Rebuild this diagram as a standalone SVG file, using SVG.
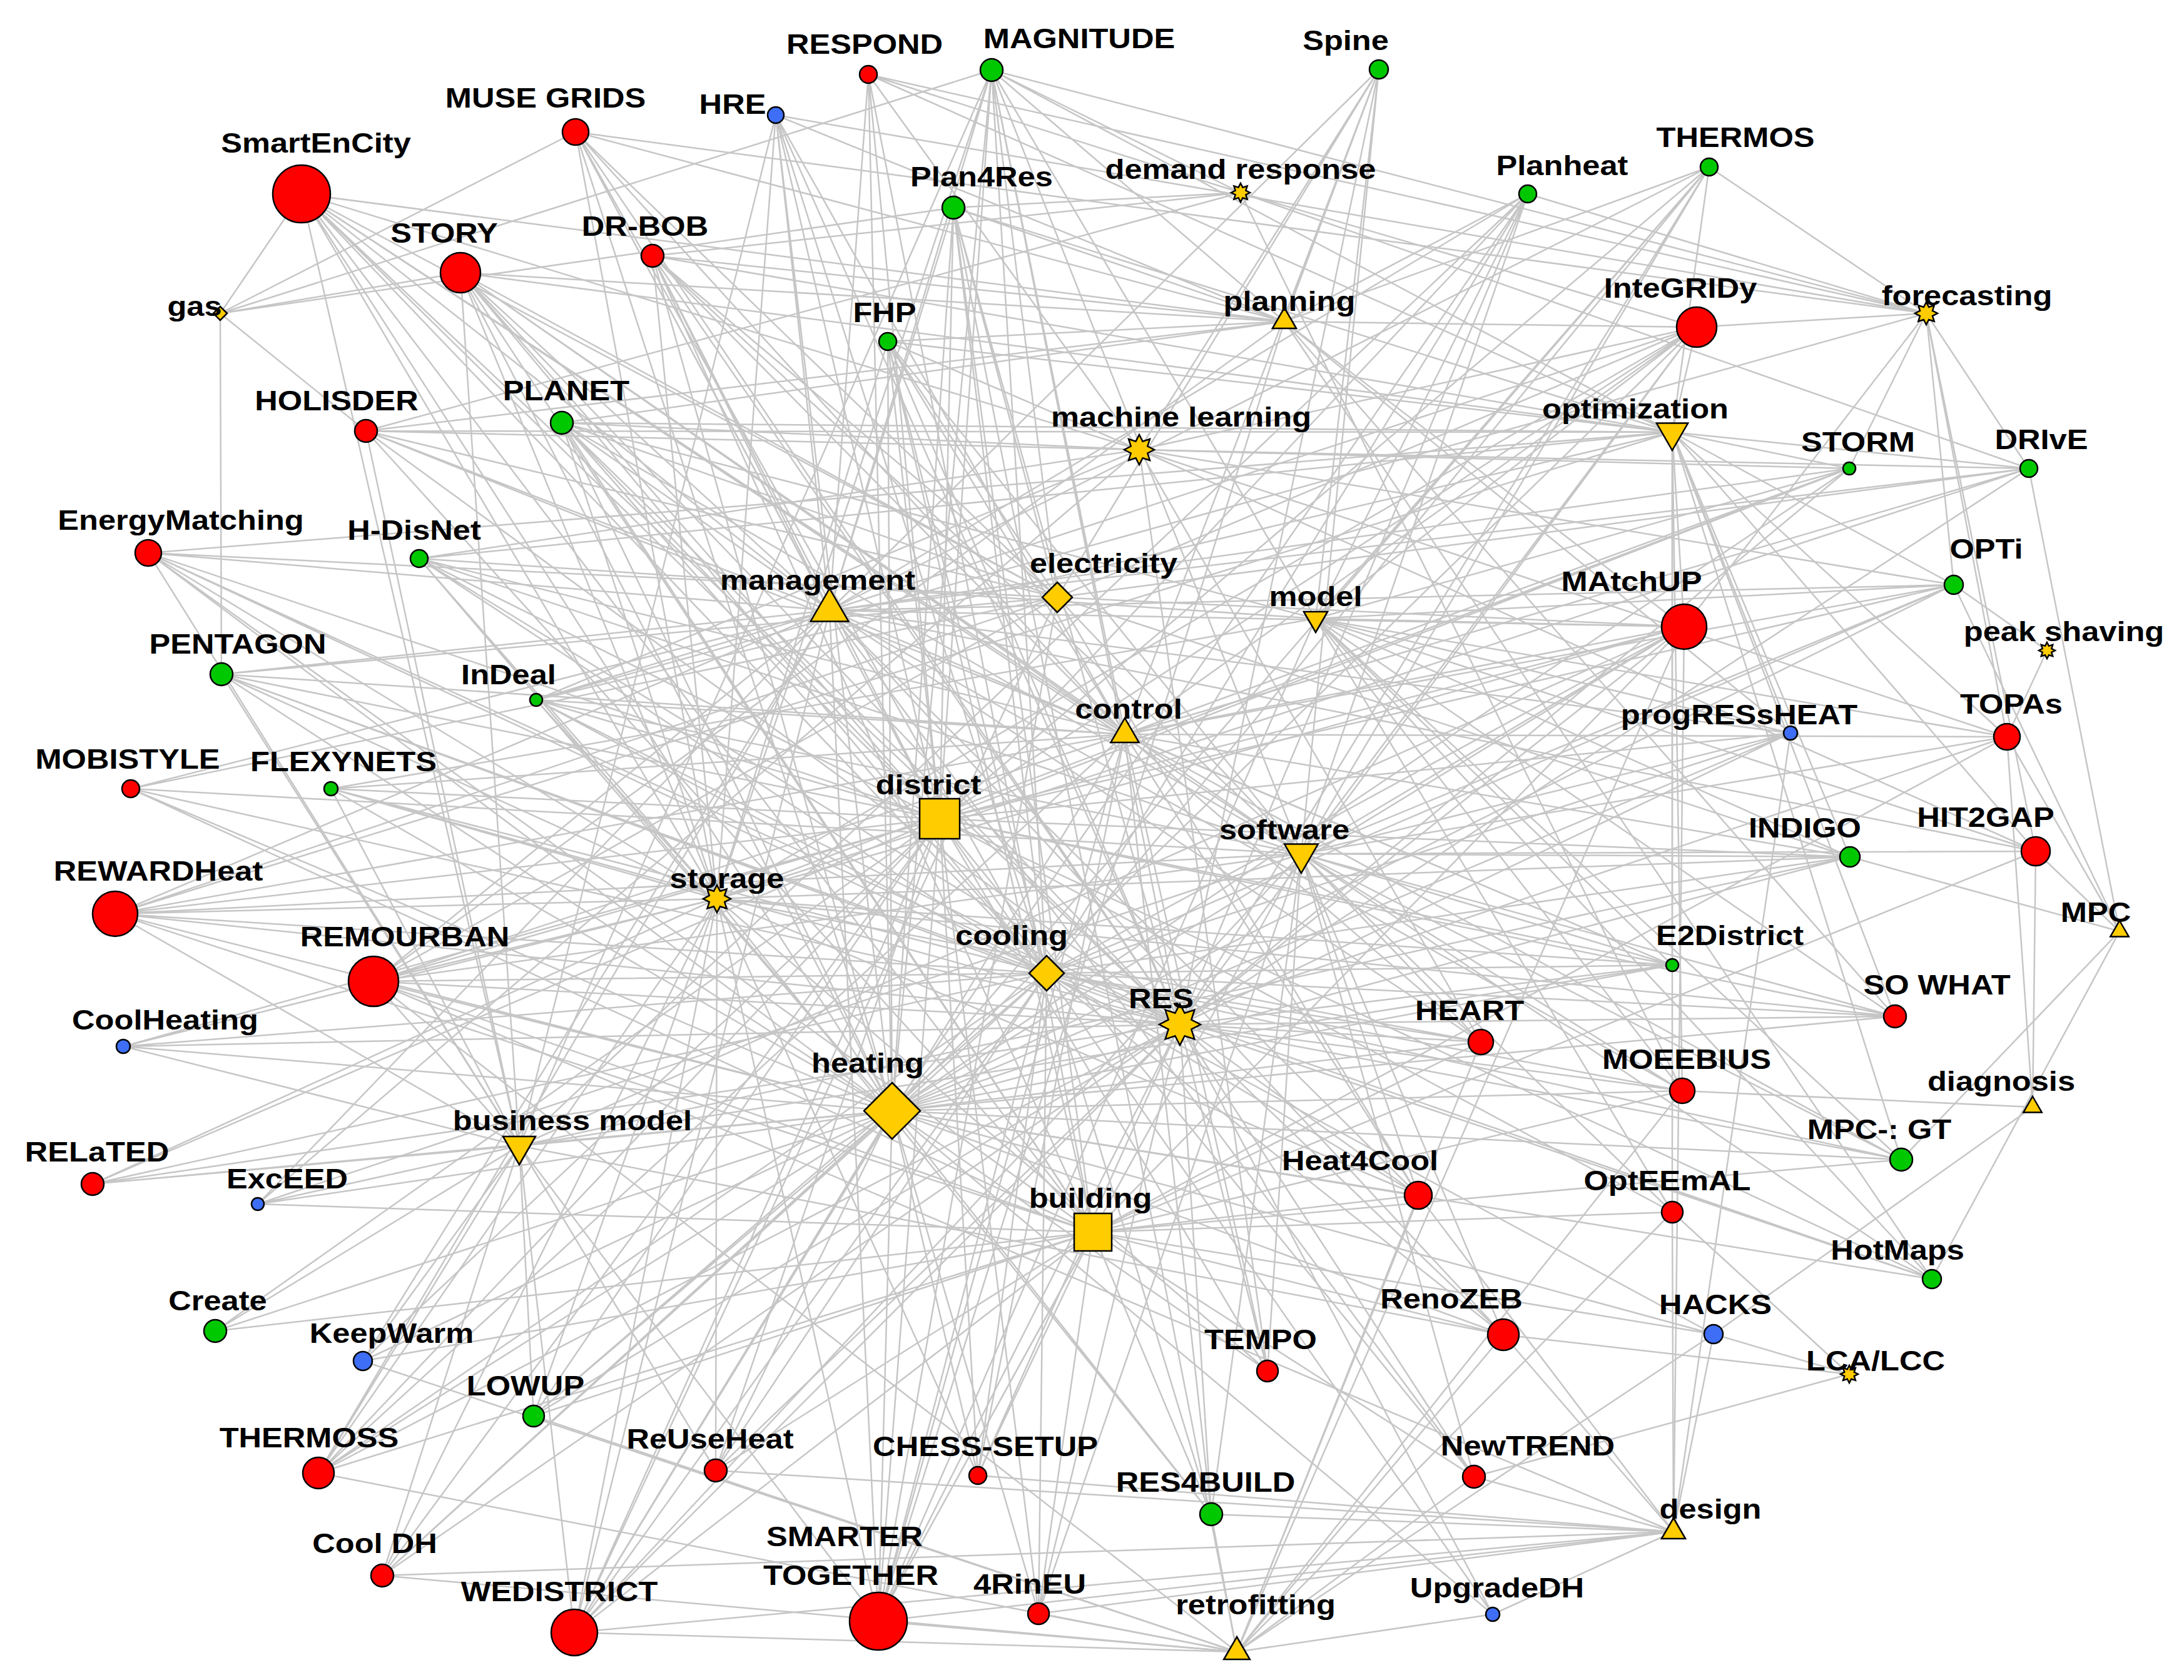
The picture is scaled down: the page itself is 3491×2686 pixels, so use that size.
<svg xmlns="http://www.w3.org/2000/svg" xmlns:xlink="http://www.w3.org/1999/xlink" width="3491" height="2686" viewBox="0 0 3491 2686">
<style>
.e{fill:none;stroke:#c6c6c6;stroke-width:2.5}
.r{fill:#ff0000;stroke:#000;stroke-width:2.5}
.g{fill:#00c800;stroke:#000;stroke-width:2.5}
.b{fill:#3d6ef5;stroke:#000;stroke-width:2.5}
.y{fill:#ffcc00;stroke:#000;stroke-width:2.5}
.l{font-family:"Liberation Sans",Arial,sans-serif;font-weight:bold;font-size:44px;text-anchor:middle;fill:#000}
</style>
<defs>
<polygon id="star" vector-effect="non-scaling-stroke" points="0,-1 0.2296,-0.5543 0.7071,-0.7071 0.5543,-0.2296 1,0 0.5543,0.2296 0.7071,0.7071 0.2296,0.5543 0,1 -0.2296,0.5543 -0.7071,0.7071 -0.5543,0.2296 -1,0 -0.5543,-0.2296 -0.7071,-0.7071 -0.2296,-0.5543"/>
</defs>
<rect width="3491" height="2686" fill="#fff"/>
<g id="connectors" class="e">
<path d="M482 310L352 501M482 310L2053 514M482 310L1326 976M482 310L1690 955M482 310L1502 1309M482 310L1426 1776M482 310L1146 1437M482 310L830 1832M482 310L1798 1174M482 310L1673 1556M482 310L1886 1638M482 310L1747 1970M482 310L2080 1365M482 310L1821 719"/>
<path d="M920 211L352 501M920 211L2053 514M920 211L3079 501M920 211L1326 976M920 211L1690 955M920 211L1502 1309M920 211L1426 1776M920 211L1673 1556M920 211L1886 1638M920 211L1146 1437M920 211L1798 1174"/>
<path d="M1388 119L1983 308M1388 119L3079 501M1388 119L2673 691M1388 119L1326 976M1388 119L1502 1309M1388 119L1426 1776M1388 119L1821 719M1388 119L1747 1970"/>
<path d="M1585 112L352 501M1585 112L2053 514M1585 112L1983 308M1585 112L2673 691M1585 112L3079 501M1585 112L1146 1437M1585 112L1326 976M1585 112L1690 955M1585 112L1502 1309M1585 112L1426 1776M1585 112L1673 1556M1585 112L1886 1638M1585 112L1798 1174M1585 112L2103 989M1585 112L830 1832M1585 112L2080 1365"/>
<path d="M1240 184L2053 514M1240 184L1326 976M1240 184L1502 1309M1240 184L1426 1776M1240 184L1146 1437M1240 184L830 1832M1240 184L1886 1638M1240 184L1673 1556M1240 184L3079 501M1240 184L1798 1174"/>
<path d="M2204 111L2053 514M2204 111L1821 719M2204 111L1690 955M2204 111L2103 989M2204 111L1798 1174M2204 111L2080 1365M2204 111L1886 1638M2204 111L1326 976"/>
<path d="M1524 332L352 501M1524 332L1983 308M1524 332L2053 514M1524 332L2673 691M1524 332L1326 976M1524 332L1690 955M1524 332L1502 1309M1524 332L1426 1776M1524 332L1673 1556M1524 332L1886 1638M1524 332L1747 1970M1524 332L1977 2641"/>
<path d="M2442 310L3079 501M2442 310L2053 514M2442 310L2103 989M2442 310L2080 1365M2442 310L1502 1309M2442 310L1426 1776M2442 310L1673 1556M2442 310L1326 976M2442 310L830 1832M2442 310L1886 1638"/>
<path d="M2732 267L2053 514M2732 267L2673 691M2732 267L2103 989M2732 267L2080 1365M2732 267L1502 1309M2732 267L1426 1776M2732 267L1673 1556M2732 267L1326 976M2732 267L1886 1638M2732 267L3079 501"/>
<path d="M736 436L352 501M736 436L2053 514M736 436L1326 976M736 436L1690 955M736 436L1502 1309M736 436L1426 1776M736 436L1146 1437M736 436L1673 1556M736 436L1886 1638M736 436L1747 1970M736 436L1798 1174M736 436L2080 1365M736 436L2673 691M736 436L830 1832"/>
<path d="M1043 409L1983 308M1043 409L2053 514M1043 409L1690 955M1043 409L1326 976M1043 409L1502 1309M1043 409L1426 1776M1043 409L1146 1437M1043 409L1886 1638M1043 409L1798 1174M1043 409L1747 1970M1043 409L2080 1365M1043 409L2673 691"/>
<path d="M2712 523L3079 501M2712 523L2673 691M2712 523L2053 514M2712 523L1983 308M2712 523L1821 719M2712 523L2103 989M2712 523L1326 976M2712 523L1690 955M2712 523L1502 1309M2712 523L1426 1776M2712 523L1146 1437M2712 523L1798 1174M2712 523L1886 1638M2712 523L2080 1365"/>
<path d="M1419 546L2053 514M1419 546L1821 719M1419 546L2673 691M1419 546L1690 955M1419 546L1502 1309M1419 546L1426 1776M1419 546L1146 1437M1419 546L1886 1638M1419 546L1798 1174M1419 546L1747 1970M1419 546L2080 1365M1419 546L1673 1556"/>
<path d="M585 689L352 501M585 689L2053 514M585 689L1821 719M585 689L1326 976M585 689L1690 955M585 689L1983 308M585 689L1798 1174M585 689L2673 691M585 689L1747 1970M585 689L1886 1638M585 689L830 1832"/>
<path d="M898 676L1821 719M898 676L2673 691M898 676L2053 514M898 676L1326 976M898 676L1690 955M898 676L1502 1309M898 676L1426 1776M898 676L1146 1437M898 676L1886 1638M898 676L1673 1556M898 676L2080 1365M898 676L2103 989M898 676L1747 1970"/>
<path d="M2956 749L3079 501M2956 749L2673 691M2956 749L1821 719M2956 749L2103 989M2956 749L1798 1174M2956 749L1326 976M2956 749L1502 1309M2956 749L1426 1776M2956 749L1146 1437M2956 749L1886 1638"/>
<path d="M3243 749L3079 501M3243 749L2673 691M3243 749L1983 308M3243 749L1821 719M3243 749L1798 1174M3243 749L1326 976M3243 749L1690 955M3243 749L1146 1437M3243 749L1886 1638M3243 749L3388 1489"/>
<path d="M237 884L1326 976M237 884L1690 955M237 884L1502 1309M237 884L1426 1776M237 884L1146 1437M237 884L1886 1638M237 884L830 1832M237 884L1673 1556M237 884L1747 1970M237 884L2673 691"/>
<path d="M670 893L1798 1174M670 893L1502 1309M670 893L1426 1776M670 893L1146 1437M670 893L1886 1638M670 893L2103 989M670 893L2673 691M670 893L1821 719M670 893L1673 1556M670 893L2080 1365"/>
<path d="M2692 1002L2673 691M2692 1002L3079 501M2692 1002L2053 514M2692 1002L1326 976M2692 1002L1690 955M2692 1002L2103 989M2692 1002L1502 1309M2692 1002L1426 1776M2692 1002L1673 1556M2692 1002L1146 1437M2692 1002L1886 1638M2692 1002L1747 1970M2692 1002L1977 2641M2692 1002L2080 1365M2692 1002L1798 1174M2692 1002L2675 2449M2692 1002L830 1832"/>
<path d="M3123 935L3079 501M3123 935L2673 691M3123 935L1821 719M3123 935L1798 1174M3123 935L1326 976M3123 935L1502 1309M3123 935L1426 1776M3123 935L1673 1556M3123 935L3272 1040M3123 935L2103 989M3123 935L3388 1489M3123 935L2080 1365"/>
<path d="M354 1078L352 501M354 1078L1326 976M354 1078L1690 955M354 1078L1502 1309M354 1078L1426 1776M354 1078L1146 1437M354 1078L1886 1638M354 1078L1798 1174M354 1078L830 1832M354 1078L1673 1556"/>
<path d="M857 1119L1821 719M857 1119L1326 976M857 1119L1798 1174M857 1119L1502 1309M857 1119L1426 1776M857 1119L1146 1437M857 1119L1886 1638M857 1119L1673 1556M857 1119L2080 1365M857 1119L3079 501M857 1119L2673 691"/>
<path d="M2862 1172L2053 514M2862 1172L2103 989M2862 1172L2080 1365M2862 1172L1502 1309M2862 1172L1426 1776M2862 1172L1673 1556M2862 1172L1886 1638M2862 1172L1326 976M2862 1172L2673 691M2862 1172L2675 2449"/>
<path d="M3208 1178L3079 501M3208 1178L3272 1040M3208 1178L3388 1489M3208 1178L3249 1770M3208 1178L2673 691M3208 1178L1798 1174M3208 1178L2080 1365M3208 1178L2103 989M3208 1178L1821 719M3208 1178L1747 1970M3208 1178L1426 1776"/>
<path d="M209 1261L1326 976M209 1261L1886 1638M209 1261L1747 1970M209 1261L1690 955M209 1261L2080 1365M209 1261L1426 1776"/>
<path d="M529 1261L1502 1309M529 1261L1426 1776M529 1261L1673 1556M529 1261L1146 1437M529 1261L1886 1638M529 1261L1798 1174M529 1261L830 1832M529 1261L2103 989"/>
<path d="M2957 1370L3388 1489M2957 1370L2673 691M2957 1370L1798 1174M2957 1370L2080 1365M2957 1370L2103 989M2957 1370L1502 1309M2957 1370L1673 1556M2957 1370L1426 1776M2957 1370L1146 1437M2957 1370L830 1832M2957 1370L1690 955"/>
<path d="M3254 1361L3249 1770M3254 1361L3388 1489M3254 1361L3079 501M3254 1361L2673 691M3254 1361L1821 719M3254 1361L2080 1365M3254 1361L1326 976M3254 1361L1747 1970M3254 1361L2103 989"/>
<path d="M184 1461L1502 1309M184 1461L1426 1776M184 1461L1673 1556M184 1461L1146 1437M184 1461L1886 1638M184 1461L1798 1174M184 1461L830 1832M184 1461L1326 976M184 1461L2080 1365M184 1461L1690 955M184 1461L1747 1970M184 1461L2673 691"/>
<path d="M597 1569L1326 976M597 1569L1690 955M597 1569L1502 1309M597 1569L1426 1776M597 1569L1146 1437M597 1569L1886 1638M597 1569L1673 1556M597 1569L830 1832M597 1569L1747 1970M597 1569L1977 2641M597 1569L2080 1365M597 1569L1798 1174M597 1569L2053 514M597 1569L2675 2449"/>
<path d="M2673 1543L2673 691M2673 1543L1798 1174M2673 1543L2080 1365M2673 1543L2103 989M2673 1543L1502 1309M2673 1543L1426 1776M2673 1543L1673 1556M2673 1543L1146 1437M2673 1543L1886 1638M2673 1543L830 1832M2673 1543L1326 976"/>
<path d="M3029 1625L2080 1365M3029 1625L2103 989M3029 1625L1502 1309M3029 1625L1426 1776M3029 1625L1673 1556M3029 1625L1886 1638M3029 1625L1146 1437M3029 1625L2053 514M3029 1625L830 1832M3029 1625L2673 691"/>
<path d="M197 1673L1502 1309M197 1673L1426 1776M197 1673L1673 1556M197 1673L1886 1638M197 1673L1146 1437M197 1673L830 1832"/>
<path d="M2367 1666L1886 1638M2367 1666L1426 1776M2367 1666L1673 1556M2367 1666L1747 1970M2367 1666L1977 2641M2367 1666L1798 1174M2367 1666L1326 976M2367 1666L1690 955M2367 1666L1146 1437M2367 1666L2080 1365M2367 1666L1821 719"/>
<path d="M2689 1744L3249 1770M2689 1744L2103 989M2689 1744L2080 1365M2689 1744L1747 1970M2689 1744L1426 1776M2689 1744L1673 1556M2689 1744L1977 2641M2689 1744L1983 308M2689 1744L1326 976M2689 1744L2673 691M2689 1744L1886 1638"/>
<path d="M3039 1854L1798 1174M3039 1854L2673 691M3039 1854L3388 1489M3039 1854L2080 1365M3039 1854L1426 1776M3039 1854L1673 1556M3039 1854L1747 1970M3039 1854L1886 1638M3039 1854L2103 989"/>
<path d="M148 1893L1502 1309M148 1893L1426 1776M148 1893L1886 1638M148 1893L830 1832M148 1893L1146 1437M148 1893L1673 1556"/>
<path d="M412 1925L1747 1970M412 1925L830 1832M412 1925L2080 1365M412 1925L1326 976M412 1925L1426 1776M412 1925L1821 719"/>
<path d="M2267 1911L1426 1776M2267 1911L1673 1556M2267 1911L1747 1970M2267 1911L1977 2641M2267 1911L1886 1638M2267 1911L1146 1437M2267 1911L1798 1174M2267 1911L2675 2449M2267 1911L2080 1365M2267 1911L1326 976M2267 1911L1690 955"/>
<path d="M2673 1938L2673 691M2673 1938L1747 1970M2673 1938L1977 2641M2673 1938L2675 2449M2673 1938L2080 1365M2673 1938L1502 1309M2673 1938L2103 989M2673 1938L2956 2197"/>
<path d="M3088 2045L2053 514M3088 2045L1502 1309M3088 2045L1426 1776M3088 2045L1673 1556M3088 2045L2080 1365M3088 2045L2103 989M3088 2045L1886 1638M3088 2045L3388 1489"/>
<path d="M344 2128L1747 1970M344 2128L1502 1309M344 2128L830 1832M344 2128L1426 1776"/>
<path d="M580 2176L1502 1309M580 2176L1426 1776M580 2176L830 1832M580 2176L1326 976M580 2176L1747 1970M580 2176L1977 2641"/>
<path d="M2403 2134L1747 1970M2403 2134L1977 2641M2403 2134L2675 2449M2403 2134L2956 2197M2403 2134L1426 1776M2403 2134L1673 1556M2403 2134L1886 1638M2403 2134L2080 1365M2403 2134L830 1832M2403 2134L1326 976"/>
<path d="M2739 2133L1747 1970M2739 2133L2675 2449M2739 2133L1426 1776M2739 2133L1673 1556M2739 2133L1977 2641M2739 2133L3249 1770M2739 2133L2956 2197"/>
<path d="M2026 2192L1502 1309M2026 2192L1426 1776M2026 2192L1886 1638M2026 2192L1146 1437M2026 2192L1798 1174M2026 2192L2080 1365M2026 2192L1821 719"/>
<path d="M853 2264L1747 1970M853 2264L1426 1776M853 2264L1673 1556M853 2264L1886 1638M853 2264L1146 1437M853 2264L1502 1309M853 2264L830 1832M853 2264L1977 2641"/>
<path d="M509 2355L1426 1776M509 2355L1673 1556M509 2355L1747 1970M509 2355L1502 1309M509 2355L1886 1638M509 2355L1146 1437M509 2355L1798 1174M509 2355L830 1832M509 2355L1326 976M509 2355L1977 2641"/>
<path d="M1144 2351L1502 1309M1144 2351L1426 1776M1144 2351L1673 1556M1144 2351L1886 1638M1144 2351L1146 1437M1144 2351L830 1832M1144 2351L1747 1970M1144 2351L2675 2449"/>
<path d="M1563 2359L1426 1776M1563 2359L1747 1970M1563 2359L1886 1638M1563 2359L1146 1437M1563 2359L1673 1556M1563 2359L1798 1174M1563 2359L1502 1309M1563 2359L2675 2449"/>
<path d="M2356 2361L1747 1970M2356 2361L1977 2641M2356 2361L2675 2449M2356 2361L2956 2197M2356 2361L1502 1309M2356 2361L1886 1638M2356 2361L1326 976M2356 2361L2080 1365"/>
<path d="M1936 2421L1886 1638M1936 2421L1747 1970M1936 2421L1426 1776M1936 2421L1673 1556M1936 2421L2675 2449M1936 2421L1977 2641M1936 2421L1798 1174M1936 2421L1146 1437M1936 2421L2080 1365"/>
<path d="M611 2519L1502 1309M611 2519L1426 1776M611 2519L1673 1556M611 2519L1146 1437M611 2519L1886 1638M611 2519L1977 2641M611 2519L2675 2449M611 2519L830 1832"/>
<path d="M918 2610L1502 1309M918 2610L1426 1776M918 2610L1673 1556M918 2610L1886 1638M918 2610L1146 1437M918 2610L830 1832M918 2610L1798 1174M918 2610L1326 976M918 2610L1690 955M918 2610L1747 1970M918 2610L2080 1365M918 2610L2675 2449M918 2610L1977 2641"/>
<path d="M1404 2592L1502 1309M1404 2592L1426 1776M1404 2592L1673 1556M1404 2592L1886 1638M1404 2592L1326 976M1404 2592L1690 955M1404 2592L1747 1970M1404 2592L1977 2641M1404 2592L830 1832M1404 2592L1146 1437M1404 2592L2053 514M1404 2592L2080 1365M1404 2592L1798 1174M1404 2592L2675 2449M1404 2592L2103 989"/>
<path d="M1660 2580L1747 1970M1660 2580L1977 2641M1660 2580L2675 2449M1660 2580L1886 1638M1660 2580L1426 1776M1660 2580L1673 1556M1660 2580L1502 1309M1660 2580L2080 1365"/>
<path d="M2386 2581L1502 1309M2386 2581L1426 1776M2386 2581L1977 2641M2386 2581L2675 2449M2386 2581L1886 1638"/>
</g>
<g id="n-heating"><polygon class="y" points="1426,1731 1471,1776 1426,1821 1381,1776"/><text class="l" transform="translate(1387 1715) scale(1.15 1)">heating</text></g>
<g id="n-district"><rect class="y" x="1470" y="1277" width="64" height="64"/><text class="l" transform="translate(1484 1270) scale(1.15 1)">district</text></g>
<g id="n-building"><rect class="y" x="1717" y="1940" width="60" height="60"/><text class="l" transform="translate(1743 1931) scale(1.15 1)">building</text></g>
<g id="n-RES"><use xlink:href="#star" class="y" transform="translate(1886 1638) scale(33)"/><text class="l" transform="translate(1856 1612) scale(1.15 1)">RES</text></g>
<g id="n-cooling"><polygon class="y" points="1673,1528 1701,1556 1673,1584 1645,1556"/><text class="l" transform="translate(1617 1511) scale(1.15 1)">cooling</text></g>
<g id="n-management"><polygon class="y" points="1326,941 1356.3,993.5 1295.7,993.5"/><text class="l" transform="translate(1307 943) scale(1.15 1)">management</text></g>
<g id="n-storage"><use xlink:href="#star" class="y" transform="translate(1146 1437) scale(22)"/><text class="l" transform="translate(1162 1420) scale(1.15 1)">storage</text></g>
<g id="n-business-model"><polygon class="y" points="830,1862 856,1817 804,1817"/><text class="l" transform="translate(915 1807) scale(1.15 1)">business model</text></g>
<g id="n-software"><polygon class="y" points="2080,1396 2106.8,1349.5 2053.2,1349.5"/><text class="l" transform="translate(2053 1342) scale(1.15 1)">software</text></g>
<g id="n-model"><polygon class="y" points="2103,1011 2122.1,978 2083.9,978"/><text class="l" transform="translate(2103 969) scale(1.15 1)">model</text></g>
<g id="n-control"><polygon class="y" points="1798,1148 1820.5,1187 1775.5,1187"/><text class="l" transform="translate(1804 1149) scale(1.15 1)">control</text></g>
<g id="n-electricity"><polygon class="y" points="1690,931 1714,955 1690,979 1666,955"/><text class="l" transform="translate(1764 916) scale(1.15 1)">electricity</text></g>
<g id="n-optimization"><polygon class="y" points="2673,720 2698.1,676.5 2647.9,676.5"/><text class="l" transform="translate(2614 669) scale(1.15 1)">optimization</text></g>
<g id="n-machine-learning"><use xlink:href="#star" class="y" transform="translate(1821 719) scale(24)"/><text class="l" transform="translate(1888 682) scale(1.15 1)">machine learning</text></g>
<g id="n-planning"><polygon class="y" points="2053,492 2072.1,525 2033.9,525"/><text class="l" transform="translate(2061 497) scale(1.15 1)">planning</text></g>
<g id="n-forecasting"><use xlink:href="#star" class="y" transform="translate(3079 501) scale(18)"/><text class="l" transform="translate(3144 488) scale(1.15 1)">forecasting</text></g>
<g id="n-demand-response"><use xlink:href="#star" class="y" transform="translate(1983 308) scale(15)"/><text class="l" transform="translate(1983 286) scale(1.15 1)">demand response</text></g>
<g id="n-retrofitting"><polygon class="y" points="1977,2617 1997.8,2653 1956.2,2653"/><text class="l" transform="translate(2007 2581) scale(1.15 1)">retrofitting</text></g>
<g id="n-design"><polygon class="y" points="2675,2427 2694.1,2460 2655.9,2460"/><text class="l" transform="translate(2734 2428) scale(1.15 1)">design</text></g>
<g id="n-LCA-LCC"><use xlink:href="#star" class="y" transform="translate(2956 2197) scale(14)"/><text class="l" transform="translate(2998 2191) scale(1.15 1)">LCA/LCC</text></g>
<g id="n-diagnosis"><polygon class="y" points="3249,1753 3263.7,1778.5 3234.3,1778.5"/><text class="l" transform="translate(3199 1744) scale(1.15 1)">diagnosis</text></g>
<g id="n-MPC"><polygon class="y" points="3388,1472 3402.7,1497.5 3373.3,1497.5"/><text class="l" transform="translate(3350 1474) scale(1.15 1)">MPC</text></g>
<g id="n-peak-shaving"><use xlink:href="#star" class="y" transform="translate(3272 1040) scale(13)"/><text class="l" transform="translate(3299 1025) scale(1.15 1)">peak shaving</text></g>
<g id="n-gas"><polygon class="y" points="352,490 363,501 352,512 341,501"/><text class="l" transform="translate(311 505) scale(1.15 1)">gas</text></g>
<g id="n-SmartEnCity"><circle class="r" cx="482" cy="310" r="46"/><text class="l" transform="translate(505 244) scale(1.15 1)">SmartEnCity</text></g>
<g id="n-MUSE-GRIDS"><circle class="r" cx="920" cy="211" r="21"/><text class="l" transform="translate(872 172) scale(1.15 1)">MUSE GRIDS</text></g>
<g id="n-RESPOND"><circle class="r" cx="1388" cy="119" r="14"/><text class="l" transform="translate(1382 86) scale(1.15 1)">RESPOND</text></g>
<g id="n-MAGNITUDE"><circle class="g" cx="1585" cy="112" r="18"/><text class="l" transform="translate(1725 77) scale(1.15 1)">MAGNITUDE</text></g>
<g id="n-HRE"><circle class="b" cx="1240" cy="184" r="13"/><text class="l" transform="translate(1171 182) scale(1.15 1)">HRE</text></g>
<g id="n-Spine"><circle class="g" cx="2204" cy="111" r="15"/><text class="l" transform="translate(2151 80) scale(1.15 1)">Spine</text></g>
<g id="n-Plan4Res"><circle class="g" cx="1524" cy="332" r="18"/><text class="l" transform="translate(1569 298) scale(1.15 1)">Plan4Res</text></g>
<g id="n-Planheat"><circle class="g" cx="2442" cy="310" r="14"/><text class="l" transform="translate(2497 280) scale(1.15 1)">Planheat</text></g>
<g id="n-THERMOS"><circle class="g" cx="2732" cy="267" r="14"/><text class="l" transform="translate(2774 235) scale(1.15 1)">THERMOS</text></g>
<g id="n-STORY"><circle class="r" cx="736" cy="436" r="32"/><text class="l" transform="translate(710 388) scale(1.15 1)">STORY</text></g>
<g id="n-DR-BOB"><circle class="r" cx="1043" cy="409" r="18"/><text class="l" transform="translate(1031 377) scale(1.15 1)">DR-BOB</text></g>
<g id="n-InteGRIDy"><circle class="r" cx="2712" cy="523" r="32"/><text class="l" transform="translate(2686 476) scale(1.15 1)">InteGRIDy</text></g>
<g id="n-FHP"><circle class="g" cx="1419" cy="546" r="14"/><text class="l" transform="translate(1414 515) scale(1.15 1)">FHP</text></g>
<g id="n-HOLISDER"><circle class="r" cx="585" cy="689" r="18"/><text class="l" transform="translate(538 656) scale(1.15 1)">HOLISDER</text></g>
<g id="n-PLANET"><circle class="g" cx="898" cy="676" r="18"/><text class="l" transform="translate(905 640) scale(1.15 1)">PLANET</text></g>
<g id="n-STORM"><circle class="g" cx="2956" cy="749" r="10"/><text class="l" transform="translate(2970 722) scale(1.15 1)">STORM</text></g>
<g id="n-DRIvE"><circle class="g" cx="3243" cy="749" r="14"/><text class="l" transform="translate(3263 718) scale(1.15 1)">DRIvE</text></g>
<g id="n-EnergyMatching"><circle class="r" cx="237" cy="884" r="21"/><text class="l" transform="translate(289 847) scale(1.15 1)">EnergyMatching</text></g>
<g id="n-H-DisNet"><circle class="g" cx="670" cy="893" r="14"/><text class="l" transform="translate(662 863) scale(1.15 1)">H-DisNet</text></g>
<g id="n-MAtchUP"><circle class="r" cx="2692" cy="1002" r="36"/><text class="l" transform="translate(2608 945) scale(1.15 1)">MAtchUP</text></g>
<g id="n-OPTi"><circle class="g" cx="3123" cy="935" r="15"/><text class="l" transform="translate(3175 893) scale(1.15 1)">OPTi</text></g>
<g id="n-PENTAGON"><circle class="g" cx="354" cy="1078" r="18"/><text class="l" transform="translate(380 1045) scale(1.15 1)">PENTAGON</text></g>
<g id="n-InDeal"><circle class="g" cx="857" cy="1119" r="10"/><text class="l" transform="translate(813 1094) scale(1.15 1)">InDeal</text></g>
<g id="n-progRESsHEAT"><circle class="b" cx="2862" cy="1172" r="11"/><text class="l" transform="translate(2780 1158) scale(1.15 1)">progRESsHEAT</text></g>
<g id="n-TOPAs"><circle class="r" cx="3208" cy="1178" r="21"/><text class="l" transform="translate(3215 1141) scale(1.15 1)">TOPAs</text></g>
<g id="n-MOBISTYLE"><circle class="r" cx="209" cy="1261" r="14"/><text class="l" transform="translate(204 1229) scale(1.15 1)">MOBISTYLE</text></g>
<g id="n-FLEXYNETS"><circle class="g" cx="529" cy="1261" r="11"/><text class="l" transform="translate(549 1233) scale(1.15 1)">FLEXYNETS</text></g>
<g id="n-INDIGO"><circle class="g" cx="2957" cy="1370" r="16"/><text class="l" transform="translate(2885 1339) scale(1.15 1)">INDIGO</text></g>
<g id="n-HIT2GAP"><circle class="r" cx="3254" cy="1361" r="23"/><text class="l" transform="translate(3174 1322) scale(1.15 1)">HIT2GAP</text></g>
<g id="n-REWARDHeat"><circle class="r" cx="184" cy="1461" r="36"/><text class="l" transform="translate(253 1408) scale(1.15 1)">REWARDHeat</text></g>
<g id="n-REMOURBAN"><circle class="r" cx="597" cy="1569" r="40"/><text class="l" transform="translate(647 1513) scale(1.15 1)">REMOURBAN</text></g>
<g id="n-E2District"><circle class="g" cx="2673" cy="1543" r="10"/><text class="l" transform="translate(2765 1511) scale(1.15 1)">E2District</text></g>
<g id="n-SO-WHAT"><circle class="r" cx="3029" cy="1625" r="18"/><text class="l" transform="translate(3096 1590) scale(1.15 1)">SO WHAT</text></g>
<g id="n-CoolHeating"><circle class="b" cx="197" cy="1673" r="11"/><text class="l" transform="translate(264 1646) scale(1.15 1)">CoolHeating</text></g>
<g id="n-HEART"><circle class="r" cx="2367" cy="1666" r="20"/><text class="l" transform="translate(2349 1631) scale(1.15 1)">HEART</text></g>
<g id="n-MOEEBIUS"><circle class="r" cx="2689" cy="1744" r="20"/><text class="l" transform="translate(2696 1709) scale(1.15 1)">MOEEBIUS</text></g>
<g id="n-MPC-GT"><circle class="g" cx="3039" cy="1854" r="18"/><text class="l" transform="translate(3004 1821) scale(1.15 1)">MPC-: GT</text></g>
<g id="n-RELaTED"><circle class="r" cx="148" cy="1893" r="18"/><text class="l" transform="translate(155 1857) scale(1.15 1)">RELaTED</text></g>
<g id="n-ExcEED"><circle class="b" cx="412" cy="1925" r="10"/><text class="l" transform="translate(459 1900) scale(1.15 1)">ExcEED</text></g>
<g id="n-Heat4Cool"><circle class="r" cx="2267" cy="1911" r="22"/><text class="l" transform="translate(2174 1871) scale(1.15 1)">Heat4Cool</text></g>
<g id="n-OptEEmAL"><circle class="r" cx="2673" cy="1938" r="17"/><text class="l" transform="translate(2665 1903) scale(1.15 1)">OptEEmAL</text></g>
<g id="n-HotMaps"><circle class="g" cx="3088" cy="2045" r="15"/><text class="l" transform="translate(3033 2014) scale(1.15 1)">HotMaps</text></g>
<g id="n-Create"><circle class="g" cx="344" cy="2128" r="18"/><text class="l" transform="translate(348 2095) scale(1.15 1)">Create</text></g>
<g id="n-KeepWarm"><circle class="b" cx="580" cy="2176" r="15"/><text class="l" transform="translate(626 2147) scale(1.15 1)">KeepWarm</text></g>
<g id="n-RenoZEB"><circle class="r" cx="2403" cy="2134" r="25"/><text class="l" transform="translate(2320 2092) scale(1.15 1)">RenoZEB</text></g>
<g id="n-HACKS"><circle class="b" cx="2739" cy="2133" r="15"/><text class="l" transform="translate(2742 2101) scale(1.15 1)">HACKS</text></g>
<g id="n-TEMPO"><circle class="r" cx="2026" cy="2192" r="17"/><text class="l" transform="translate(2015 2157) scale(1.15 1)">TEMPO</text></g>
<g id="n-LOWUP"><circle class="g" cx="853" cy="2264" r="17"/><text class="l" transform="translate(840 2231) scale(1.15 1)">LOWUP</text></g>
<g id="n-THERMOSS"><circle class="r" cx="509" cy="2355" r="25"/><text class="l" transform="translate(494 2314) scale(1.15 1)">THERMOSS</text></g>
<g id="n-ReUseHeat"><circle class="r" cx="1144" cy="2351" r="18"/><text class="l" transform="translate(1135 2316) scale(1.15 1)">ReUseHeat</text></g>
<g id="n-CHESS-SETUP"><circle class="r" cx="1563" cy="2359" r="14"/><text class="l" transform="translate(1575 2328) scale(1.15 1)">CHESS-SETUP</text></g>
<g id="n-NewTREND"><circle class="r" cx="2356" cy="2361" r="18"/><text class="l" transform="translate(2442 2327) scale(1.15 1)">NewTREND</text></g>
<g id="n-RES4BUILD"><circle class="g" cx="1936" cy="2421" r="18"/><text class="l" transform="translate(1927 2385) scale(1.15 1)">RES4BUILD</text></g>
<g id="n-Cool-DH"><circle class="r" cx="611" cy="2519" r="18"/><text class="l" transform="translate(599 2483) scale(1.15 1)">Cool DH</text></g>
<g id="n-WEDISTRICT"><circle class="r" cx="918" cy="2610" r="37"/><text class="l" transform="translate(894 2560) scale(1.15 1)">WEDISTRICT</text></g>
<g id="n-SMARTER-TOGETHER"><circle class="r" cx="1404" cy="2592" r="46"/><text class="l" transform="translate(1350 2472) scale(1.15 1)">SMARTER</text><text class="l" transform="translate(1360 2534) scale(1.15 1)">TOGETHER</text></g>
<g id="n-4RinEU"><circle class="r" cx="1660" cy="2580" r="17"/><text class="l" transform="translate(1646 2548) scale(1.15 1)">4RinEU</text></g>
<g id="n-UpgradeDH"><circle class="b" cx="2386" cy="2581" r="11"/><text class="l" transform="translate(2393 2554) scale(1.15 1)">UpgradeDH</text></g>
</svg>
